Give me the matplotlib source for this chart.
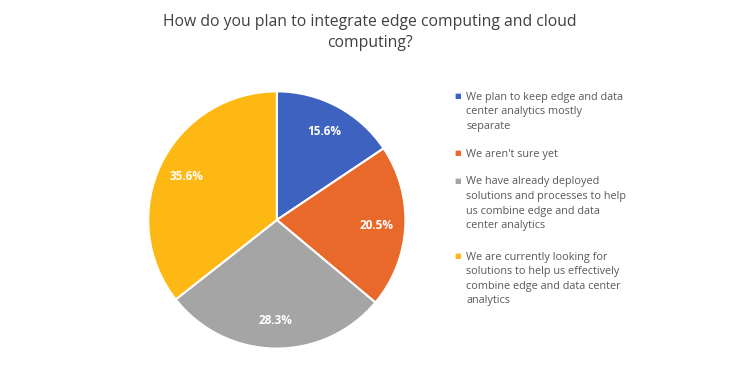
import matplotlib.pyplot as plt

title = "How do you plan to integrate edge computing and cloud\ncomputing?"
labels = [
    "We plan to keep edge and data\ncenter analytics mostly\nseparate",
    "We aren't sure yet",
    "We have already deployed\nsolutions and processes to help\nus combine edge and data\ncenter analytics",
    "We are currently looking for\nsolutions to help us effectively\ncombine edge and data center\nanalytics",
]
values = [15.6, 20.5, 28.3, 35.6]
colors = ["#3d62bf", "#e8692a", "#a5a5a5", "#fdb813"]

plt.rcParams['font.family'] = ['Open Sans', 'DejaVu Sans']

fig = plt.figure(figsize=(7.4, 3.7), dpi=100)
ax = fig.add_axes([0.1986, 0.054, 0.351, 0.703])

wedges, texts, autotexts = ax.pie(
    values, colors=colors, startangle=90, counterclock=False,
    autopct="%.1f%%", pctdistance=0.78,
    wedgeprops=dict(edgecolor="white", linewidth=1.5),
    textprops=dict(color="white", fontsize=8.5, fontweight="bold"),
)
ax.set_xlim(-1.01, 1.01)
ax.set_ylim(-1.01, 1.01)
ax.set_aspect("equal")

fig.text(0.5, 0.962, title, ha="center", va="top", fontsize=11.3,
         color="#404040", linespacing=1.4)

# legend drawn by hand so the marker sits on the first line
y_tops = [0.752, 0.598, 0.523, 0.32]
for lab, col, yt in zip(labels, colors, y_tops):
    fig.text(0.619, yt - 0.0125, "■", color=col, fontsize=5, ha="center", va="center",
             family="DejaVu Sans")
    fig.text(0.630, yt, lab, ha="left", va="top", fontsize=7.8, color="#595959",
             linespacing=1.45)

fig.savefig("out.png", dpi=100, facecolor="white")
